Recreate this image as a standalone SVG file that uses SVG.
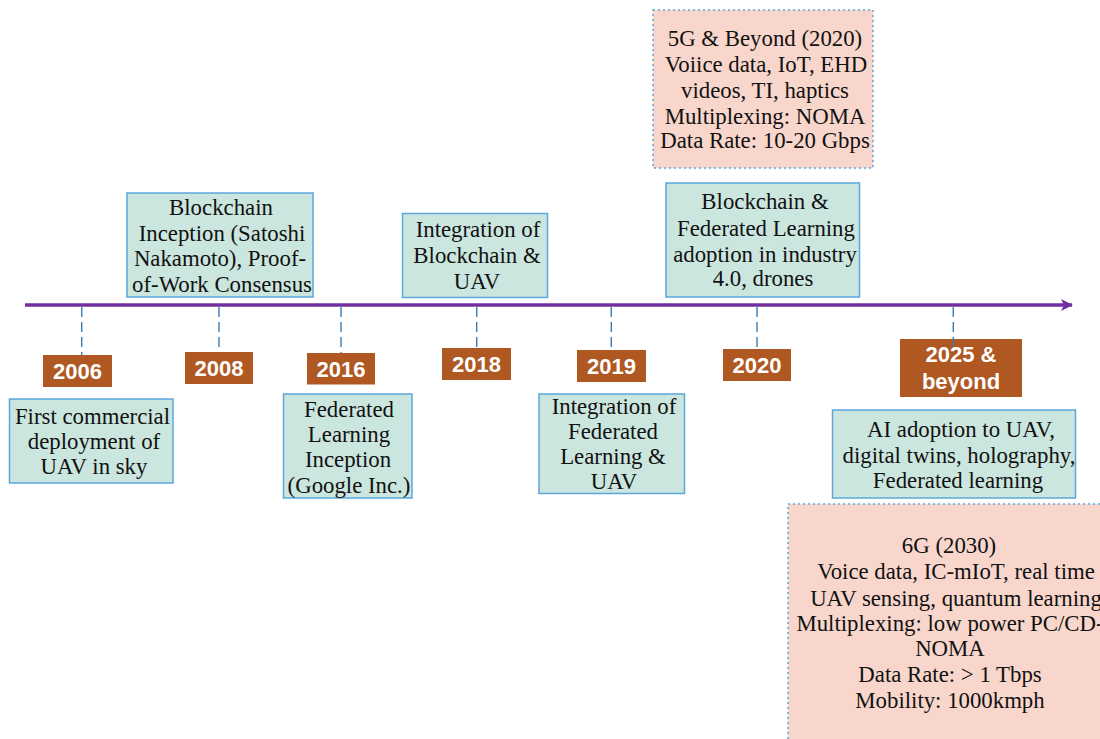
<svg xmlns="http://www.w3.org/2000/svg" width="1100" height="739" viewBox="0 0 1100 739">
<defs>
<style>
.g{fill:#CBE6DE;stroke:#5BA6DC;stroke-width:1.5}
.p{fill:#F8D6CC;stroke:#5BA6DC;stroke-width:1.5;stroke-dasharray:2 3}
.y{fill:#AF5822}
.t{font-family:"Liberation Serif","Times New Roman",serif;font-size:22.8px;fill:#111;text-anchor:middle}
.yt{font-family:"Liberation Sans",Arial,sans-serif;font-size:22px;font-weight:bold;fill:#fff;text-anchor:middle}
.tk{stroke:#3B7DB3;stroke-width:1.4;stroke-dasharray:10 5;fill:none}
</style>
<marker id="ah" viewBox="0 0 12 12" markerWidth="12" markerHeight="12" refX="11" refY="6" orient="auto" markerUnits="userSpaceOnUse">
<path d="M0,0 L12,6 L0,12 L3,6 Z" fill="#7030A0"/>
</marker>
</defs>
<rect width="1100" height="739" fill="#fff"/>

<g id="n5g">
<rect class="p" x="653" y="10" width="220" height="158"/>
<text class="t"><tspan x="765" y="46">5G &amp; Beyond (2020)</tspan><tspan x="766" y="72">Voiice data, IoT, EHD</tspan><tspan x="765" y="98">videos, TI, haptics</tspan><tspan x="765" y="124">Multiplexing: NOMA</tspan><tspan x="765" y="148">Data Rate: 10-20 Gbps</tspan></text>
</g>

<g id="n6g">
<rect class="p" x="788" y="504" width="330" height="250"/>
<text class="t"><tspan x="949" y="553">6G (2030)</tspan><tspan x="956" y="579">Voice data, IC-mIoT, real time</tspan><tspan x="956" y="605.5">UAV sensing, quantum learning</tspan><tspan x="950" y="631">Multiplexing: low power PC/CD-</tspan><tspan x="950" y="656">NOMA</tspan><tspan x="950" y="682">Data Rate: &gt; 1 Tbps</tspan><tspan x="950" y="708">Mobility: 1000kmph</tspan></text>
</g>

<g id="connectors">
<line x1="25" y1="305" x2="1072" y2="305" stroke="#7030A0" stroke-width="3.5" marker-end="url(#ah)"/>
<line class="tk" x1="81.7" y1="307" x2="81.7" y2="355"/>
<line class="tk" x1="219" y1="307" x2="219" y2="352"/>
<line class="tk" x1="341" y1="307" x2="341" y2="353"/>
<line class="tk" x1="476.7" y1="307" x2="476.7" y2="348"/>
<line class="tk" x1="611.3" y1="307" x2="611.3" y2="350"/>
<line class="tk" x1="757" y1="307" x2="757" y2="349"/>
</g>

<g id="n2006">
<rect class="y" x="43" y="355" width="69" height="32"/>
<text class="yt" x="77.5" y="379">2006</text>
</g>
<g id="n2008">
<rect class="y" x="185" y="352" width="68" height="32"/>
<text class="yt" x="219" y="376">2008</text>
</g>
<g id="n2016">
<rect class="y" x="307" y="353" width="68" height="31.5"/>
<text class="yt" x="341" y="376.5">2016</text>
</g>
<g id="n2018">
<rect class="y" x="442" y="348" width="69" height="32"/>
<text class="yt" x="476.5" y="372">2018</text>
</g>
<g id="n2019">
<rect class="y" x="577" y="350" width="69" height="32"/>
<text class="yt" x="611.5" y="374">2019</text>
</g>
<g id="n2020">
<rect class="y" x="723" y="349" width="68" height="32"/>
<text class="yt" x="757" y="373">2020</text>
</g>
<g id="n2025">
<rect class="y" x="900" y="339" width="122" height="58"/>
<text class="yt"><tspan x="961" y="362">2025 &amp;</tspan><tspan x="961" y="388.5">beyond</tspan></text>
<line class="tk" x1="953.3" y1="307" x2="953.3" y2="347"/>
</g>

<g id="e2006">
<rect class="g" x="9.5" y="399" width="163.5" height="84"/>
<text class="t"><tspan x="92.5" y="423.5">First commercial</tspan><tspan x="94" y="448.5">deployment of</tspan><tspan x="94" y="474">UAV in sky</tspan></text>
</g>
<g id="e2008">
<rect class="g" x="127" y="193" width="186" height="104"/>
<text class="t"><tspan x="221" y="215">Blockchain</tspan><tspan x="222" y="240.5">Inception (Satoshi</tspan><tspan x="220" y="266">Nakamoto), Proof-</tspan><tspan x="222" y="292">of-Work Consensus</tspan></text>
</g>
<g id="e2016">
<rect class="g" x="283.5" y="394" width="128.5" height="104"/>
<text class="t"><tspan x="349" y="416.5">Federated</tspan><tspan x="349" y="441.5">Learning</tspan><tspan x="348" y="467">Inception</tspan><tspan x="349" y="493">(Google Inc.)</tspan></text>
</g>
<g id="e2018">
<rect class="g" x="402.5" y="213.5" width="145" height="84"/>
<text class="t"><tspan x="478" y="236.5">Integration of</tspan><tspan x="477" y="263">Blockchain &amp;</tspan><tspan x="477" y="289">UAV</tspan></text>
</g>
<g id="e2019">
<rect class="g" x="539" y="394" width="145.5" height="99.5"/>
<text class="t"><tspan x="614" y="413.5">Integration of</tspan><tspan x="613" y="438.5">Federated</tspan><tspan x="613" y="463.5">Learning &amp;</tspan><tspan x="614" y="488.5">UAV</tspan></text>
</g>
<g id="e2020">
<rect class="g" x="666" y="183" width="193.5" height="114"/>
<text class="t"><tspan x="765" y="209">Blockchain &amp;</tspan><tspan x="766" y="236">Federated Learning</tspan><tspan x="765" y="262">adoption in industry</tspan><tspan x="763" y="286">4.0, drones</tspan></text>
</g>
<g id="e2025">
<rect class="g" x="832.5" y="410" width="243" height="88"/>
<text class="t"><tspan x="961" y="436.5">AI adoption to UAV,</tspan><tspan x="959" y="462.5">digital twins, holography,</tspan><tspan x="958" y="488">Federated learning</tspan></text>
</g>
</svg>
